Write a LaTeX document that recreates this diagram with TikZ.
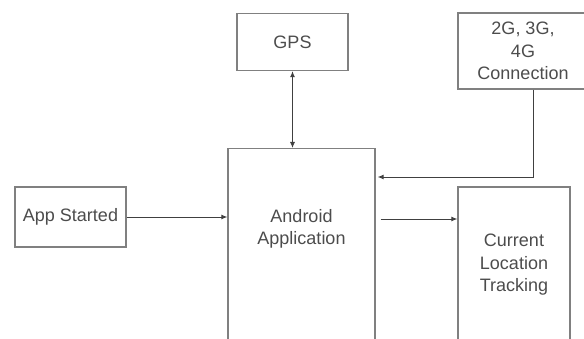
\documentclass[tikz,border=0pt]{standalone}
\usepackage{fontspec}
\setmainfont{Liberation Sans}
\usetikzlibrary{positioning,arrows.meta}

\begin{document}
\begin{tikzpicture}[x=1pt, y=-1pt,
                    blocknode/.style={rectangle, draw=black!50, line width=1.3pt, inner sep=0pt, align=center, text=black!70, font=\fontsize{18}{22.5}\selectfont},
                    textnode/.style={inner sep=0pt, align=center, text=black!70, font=\fontsize{18}{22.5}\selectfont},
                    flow/.style={draw=black!75, line width=0.9pt, -{Latex[length=6pt,width=5pt]}},
                ]
                    \useasboundingbox (0,0) rectangle (584,339);
                    \clip (0,0) rectangle (584,339);

                    %Nodes
                    \node[blocknode, minimum width=111pt, minimum height=57pt](gps) at (292.5,42) {GPS};
                    \node[blocknode, minimum width=130pt, minimum height=76pt](net) at (523,51) {2G, 3G,\\4G\\Connection};
                    \node[blocknode, minimum width=111pt, minimum height=60pt](start) at (70.5,217) {App Started};
                    \node[blocknode, minimum width=147pt, minimum height=220pt, anchor=north](andr) at (301.5,148) {};
                    \node[textnode](andrtext)[below=61pt of andr.north] {Android\\Application};
                    \node[blocknode, minimum width=112pt, minimum height=156pt](track) at (514,265) {Current\\Location\\Tracking};

                    %Lines
                    \draw[flow, {Latex[length=6pt,width=5pt]}-{Latex[length=6pt,width=5pt]}](gps.south) -- (gps.south |- andr.north);
                    \draw[flow](start.east) -- (start.east -| andr.west);
                    \draw[flow]([xshift=5pt]andr.east |- 0,219) -- (track.west |- 0,219);
                    \draw[flow]([xshift=10pt]net.south) |- ([xshift=2pt]andr.east |- 0,177);
                \end{tikzpicture}
\end{document}
